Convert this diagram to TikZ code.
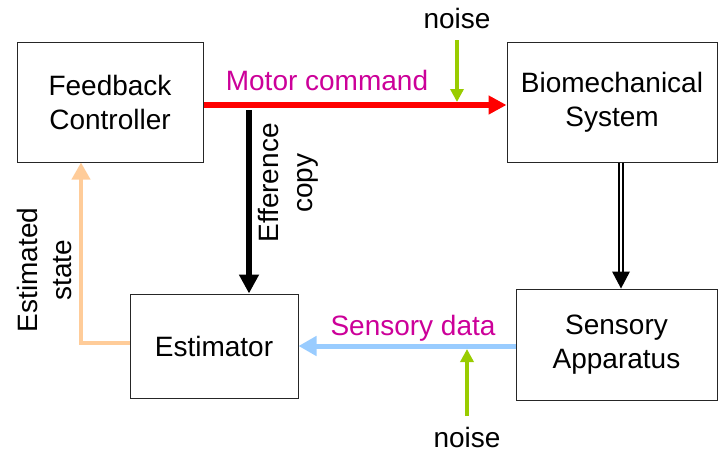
\documentclass[tikz,border=0pt]{standalone}
\usepackage{fontspec}
\setmainfont{Liberation Sans}
\usetikzlibrary{arrows.meta}
\definecolor{cmd}{HTML}{CC0099}
\definecolor{noisegreen}{HTML}{99CC00}
\definecolor{peach}{HTML}{FFCC99}
\definecolor{skyblue}{HTML}{99CCFF}
\tikzset{
  blockbox/.style={draw=black!85, line width=1pt, rectangle, align=center, inner sep=0pt,
    font=\fontsize{28}{34}\selectfont},
  lbl/.style={font=\fontsize{28}{34}\selectfont, inner sep=0pt, align=center},
  noisearrow/.style={draw=noisegreen, line width=4pt, -{Triangle[length=13pt,width=13pt]}},
}
\begin{document}
\begin{tikzpicture}[x=1pt,y=-1pt]
\useasboundingbox (0,0) rectangle (718,450);
\node[blockbox, minimum width=186pt, minimum height=120pt] (FC) at (110,102) {Feedback\\Controller};
\node[blockbox, minimum width=210pt, minimum height=120pt] (BS) at (612,102) {Biomechanical\\System};
\node[blockbox, minimum width=201pt, minimum height=111pt] (SA) at (616.5,344.5) {Sensory\\Apparatus};
\node[blockbox, minimum width=168pt, minimum height=104pt] (Est) at (214,346) {Estimator};

% motor command
\draw[red, line width=6pt, -{Triangle[length=18pt,width=18pt]}] ([yshift=-3pt]FC.east) -- ([yshift=-3pt]BS.west);
\node[lbl, text=cmd, anchor=base] (mc) at (327,90) {Motor command};

% top noise
\coordinate (n1s) at (457,40);
\coordinate (n1e) at (457,102);
\draw[noisearrow] (n1s) -- (n1e);
\node[lbl, anchor=base] (noise1) at (457,28) {noise};

% efference copy
\coordinate (effs) at (249,110);
\draw[black, line width=6pt, -{Triangle[length=19pt,width=19pt]}] (effs) -- (effs |- Est.north);
\node[lbl, rotate=90] (eff) at (288,183) {Efference\\copy};

% biomech -> sensory (double line)
\coordinate (bss) at ([xshift=9pt]BS.south);
\coordinate (bse) at (bss |- SA.north);
\draw[line width=2pt, double=white, double distance=2.5pt] (bss) -- ([yshift=15pt]bse);
\fill[black] (bse) -- ++(-9,-17) -- ++(18,0) -- cycle;

% sensory data
\draw[skyblue, line width=5pt, -{Triangle[length=18pt,width=19pt]}] (SA.west |- Est.east) -- (Est.east);
\node[lbl, text=cmd, anchor=base] (sd) at (413,335) {Sensory data};

% bottom noise
\coordinate (n2s) at (467,416);
\coordinate (n2e) at (467,349);
\draw[noisearrow] (n2s) -- (n2e);
\node[lbl, anchor=base] (noise2) at (467,447) {noise};

% estimated state
\draw[peach, line width=4pt, -{Triangle[length=17pt,width=18pt]}] ([yshift=3pt]Est.west) -| ([xshift=-29pt]FC.south);
\node[lbl, rotate=90] (es) at (44,270) {Estimated\\state};
\end{tikzpicture}
\end{document}
